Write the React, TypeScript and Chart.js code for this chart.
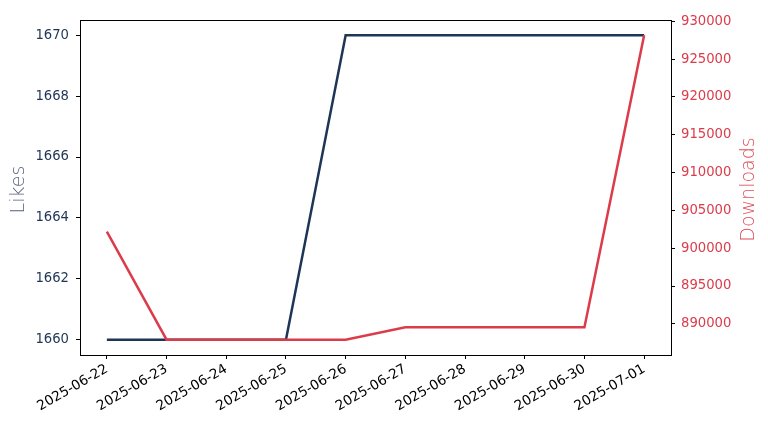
import React, { useEffect, useRef } from "react";
import { Chart, registerables } from "chart.js";

Chart.register(...registerables);

const dates = [
  "2025-06-22", "2025-06-23", "2025-06-24", "2025-06-25", "2025-06-26",
  "2025-06-27", "2025-06-28", "2025-06-29", "2025-06-30", "2025-07-01",
];
const likes = [1660, 1660, 1660, 1660, 1670, 1670, 1670, 1670, 1670, 1670];
const downloads = [902200, 887900, 887900, 887900, 887900, 889550, 889550, 889550, 889550, 928160];
const likesTicks = [1660, 1662, 1664, 1666, 1668, 1670];
const downloadsTicks = [890000, 895000, 900000, 905000, 910000, 915000, 920000, 925000, 930000];
const leftTitle = "Likes";
const rightTitle = "Downloads";

const NAVY = "#1f3556";
const RED = "#dc3b4a";
const FONT = "'DejaVu Sans', sans-serif";
const TICK_SIZE = 13.2;

const framePlugin = {
  id: "frame",
  afterDraw(chart: any) {
    const { ctx, chartArea } = chart;
    ctx.save();
    ctx.strokeStyle = "#000";
    ctx.lineWidth = 1;
    ctx.strokeRect(
      Math.round(chartArea.left) + 0.5,
      Math.round(chartArea.top) + 0.5,
      Math.round(chartArea.right - chartArea.left),
      Math.round(chartArea.bottom - chartArea.top)
    );
    const midY = (chartArea.top + chartArea.bottom) / 2 + 2;
    ctx.font = `300 19px ${FONT}`;
    ctx.textAlign = "center";
    ctx.textBaseline = "middle";
    ctx.save();
    ctx.translate(19, midY);
    ctx.rotate(-Math.PI / 2);
    ctx.fillStyle = "#56647c";
    ctx.fillText(leftTitle, 0, 0);
    ctx.restore();
    ctx.save();
    ctx.translate(749, midY);
    ctx.rotate(-Math.PI / 2);
    ctx.fillStyle = "#de4f5b";
    ctx.fillText(rightTitle, 0, 0);
    ctx.restore();
    ctx.restore();
  },
};

export default function App() {
  const ref = useRef<HTMLCanvasElement | null>(null);
  useEffect(() => {
    if (!ref.current) return;
    const chart = new Chart(ref.current, {
      type: "line",
      data: {
        datasets: [
          {
            label: "Likes",
            data: likes.map((v, i) => ({ x: i, y: v })),
            borderColor: NAVY,
            borderWidth: 2.5,
            pointRadius: 0,
            tension: 0,
            yAxisID: "y",
            order: 1,
          },
          {
            label: "Downloads",
            data: downloads.map((v, i) => ({ x: i, y: v })),
            borderColor: RED,
            borderWidth: 2.5,
            pointRadius: 0,
            tension: 0,
            yAxisID: "y1",
            order: 0,
          },
        ],
      },
      options: {
        animation: false,
        responsive: true,
        maintainAspectRatio: false,
        layout: { padding: { top: 20, left: 0, right: 0, bottom: 0 } },
        plugins: { legend: { display: false }, tooltip: { enabled: false } },
        scales: {
          x: {
            type: "linear",
            min: -0.45,
            max: dates.length - 1 + 0.45,
            afterBuildTicks: (axis: any) => {
              axis.ticks = dates.map((_, i) => ({ value: i }));
            },
            afterFit: (axis: any) => {
              axis.height = 77;
            },
            grid: { drawOnChartArea: false, drawTicks: true, tickLength: 4, color: "#000" },
            border: { display: true, color: "#000", width: 1 },
            ticks: {
              autoSkip: false,
              minRotation: 30,
              maxRotation: 30,
              padding: 2,
              color: "#000",
              font: { family: FONT, size: 13.6 },
              callback: (v: any) => dates[Math.round(Number(v))] ?? "",
            },
          },
          y: {
            type: "linear",
            position: "left",
            min: 1659.5,
            max: 1670.5,
            afterBuildTicks: (axis: any) => {
              axis.ticks = likesTicks.map((v) => ({ value: v }));
            },
            afterFit: (axis: any) => {
              axis.width = 80;
            },
            grid: { drawOnChartArea: false, drawTicks: true, tickLength: 4, color: "#000" },
            border: { display: true, color: "#000", width: 1 },
            ticks: {
              padding: 7,
              color: NAVY,
              font: { family: FONT, size: TICK_SIZE },
              callback: (v: any) => String(v),
            },
          },
          y1: {
            type: "linear",
            position: "right",
            min: 885880,
            max: 930170,
            afterBuildTicks: (axis: any) => {
              axis.ticks = downloadsTicks.map((v) => ({ value: v }));
            },
            afterFit: (axis: any) => {
              axis.width = 97;
            },
            grid: { drawOnChartArea: false, drawTicks: true, tickLength: 4, color: "#000" },
            border: { display: true, color: "#000", width: 1 },
            ticks: {
              padding: 6,
              color: RED,
              font: { family: FONT, size: TICK_SIZE },
              callback: (v: any) => String(v),
            },
          },
        },
      },
      plugins: [framePlugin],
    });
    return () => chart.destroy();
  }, []);
  return (
    <div style={{ position: "absolute", left: 0, top: 0, width: 768, height: 432, background: "#fff" }}>
      <canvas ref={ref} />
    </div>
  );
}
